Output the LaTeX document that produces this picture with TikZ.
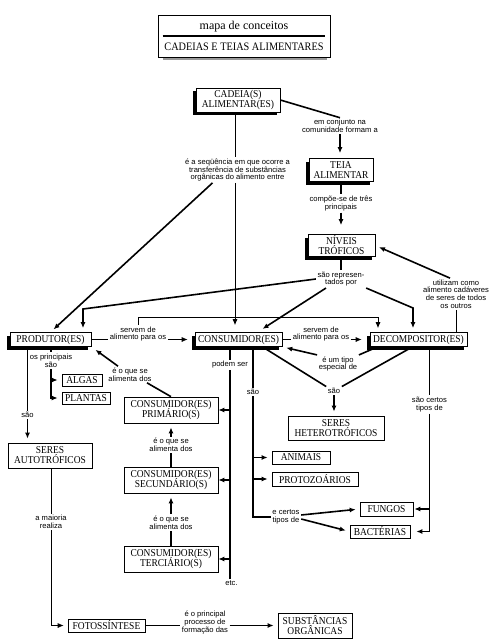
\documentclass[tikz,border=0pt]{standalone}
\usepackage{fontspec}
\setmainfont{Liberation Serif}
\newfontfamily\boxfont[FakeStretch=0.9]{Liberation Serif}
\newfontfamily\lblfont{Liberation Sans}
\newcommand\conceptfont{\boxfont\fontsize{10.5}{10}\selectfont\lineskiplimit=-10pt\relax}
\newcommand\labelfont{\lblfont\fontsize{7.6}{7.6}\selectfont\lineskiplimit=-10pt\relax}
\usetikzlibrary{arrows.meta,positioning,shadows,calc}

\begin{document}
\begin{tikzpicture}[
  x=1pt, y=-1pt,
  concept/.style={draw,line width=0.7pt,fill=white,align=center,inner xsep=2pt,inner ysep=0.5pt,
                  font=\conceptfont},
  shadowed/.style={concept,drop shadow={opacity=1,fill=black,shadow xshift=-3pt,shadow yshift=-3pt}},
  lbl/.style={align=center,inner sep=1.5pt,font=\labelfont},
  link/.style={line width=1.6pt},
  thinlink/.style={line width=0.7pt},
  linkarrow/.style={link,-{Latex[length=6pt,width=5pt]},shorten >=4pt},
  thinarrow/.style={thinlink,-{Latex[length=6pt,width=5pt]},shorten >=4pt},
]
  \useasboundingbox (0,0) rectangle (497,643);

  % Title
  \node[draw,line width=0.8pt,fill=white,minimum width=172pt,minimum height=42pt,
        drop shadow={opacity=1,fill=black!40,shadow xshift=1pt,shadow yshift=-4pt,shadow scale=0.95}]
    (title) at (244,36) {};
  \node[font=\fontsize{12}{12}\selectfont] (titletop) at (244,26.5) {mapa de conceitos};
  \node[font=\boxfont\fontsize{11.4}{11.4}\selectfont] (titlebot) at (244,46.5) {CADEIAS E TEIAS ALIMENTARES};
  \draw[line width=1.2pt] ([xshift=5pt]title.west) -- ([xshift=-5pt]title.east);

  % Main concepts
  \node[shadowed,minimum width=84pt,minimum height=24pt] (cadeia) at (238,100) {CADEIA(S)\\ALIMENTAR(ES)};
  \node[shadowed,minimum width=64pt,minimum height=23pt] (teia) at (341,170) {TEIA\\ALIMENTAR};
  \node[shadowed,minimum width=67pt,minimum height=22pt] (niveis) at (341.5,245.5) {NÍVEIS\\TRÓFICOS};
  \node[shadowed,minimum width=81pt,minimum height=14pt] (prod) at (50.5,339.5) {PRODUTOR(ES)};
  \node[shadowed,minimum width=87pt,minimum height=14pt] (cons) at (238.5,339.5) {CONSUMIDOR(ES)};
  \node[shadowed,minimum width=97pt,minimum height=14pt] (decomp) at (418.5,339.5) {DECOMPOSITOR(ES)};

  % Terms
  \node[concept,minimum width=40pt,minimum height=12pt] (algas) at (82,380) {ALGAS};
  \node[concept,minimum width=48pt,minimum height=12pt] (plantas) at (86,398) {PLANTAS};
  \node[concept,minimum width=84pt,minimum height=25pt] (autotrof) at (50,455.5) {SERES\\AUTOTRÓFICOS};
  \node[concept,minimum width=94pt,minimum height=26pt] (cprim) at (171,410) {CONSUMIDOR(ES)\\PRIMÁRIO(S)};
  \node[concept,minimum width=94pt,minimum height=26pt] (csec) at (171,480) {CONSUMIDOR(ES)\\SECUNDÁRIO(S)};
  \node[concept,minimum width=94pt,minimum height=26pt] (cter) at (171,559) {CONSUMIDOR(ES)\\TERCIÁRIO(S)};
  \node[concept,minimum width=96pt,minimum height=24pt] (heterotrof) at (336,428) {SERES\\HETEROTRÓFICOS};
  \node[concept,minimum width=58pt,minimum height=13pt] (animais) at (301,457.5) {ANIMAIS};
  \node[concept,minimum width=86pt,minimum height=14pt] (protoz) at (315,479) {PROTOZOÁRIOS};
  \node[concept,minimum width=53pt,minimum height=14pt] (fungos) at (386.5,509) {FUNGOS};
  \node[concept,minimum width=60pt,minimum height=13pt] (bacterias) at (380,531.5) {BACTÉRIAS};
  \node[concept,minimum width=77pt,minimum height=13pt] (fotoss) at (106.5,625.5) {FOTOSSÍNTESE};
  \node[concept,minimum width=74pt,minimum height=25pt] (substorg) at (315,625.5) {SUBSTÂNCIAS\\ORGÂNICAS};

  % Link labels
  \node[lbl] (emconj) at (340,126) {em conjunto na\\comunidade formam a};
  \node[lbl] (sequencia) at (237.5,170) {é a seqüência em que ocorre a\\transferência de substâncias\\orgânicas do alimento entre};
  \node[lbl] (compoe) at (341,203.5) {compõe-se de três\\principais};
  \node[lbl] (represent) at (341,279) {são represen-\\tados por};
  \node[lbl] (utilizam) at (456,294) {utilizam como\\alimento cadáveres\\de seres de todos\\os outros};
  \node[lbl] (servemA) at (138,334) {servem de\\alimento para os};
  \node[lbl] (servemB) at (321,334) {servem de\\alimento para os};
  \node[lbl] (tipoesp) at (338,364) {é um tipo\\especial de};
  \node[lbl] (saoH) at (334,391) {são};
  \node[lbl] (certosD) at (429.5,404.5) {são certos\\tipos de};
  \node[lbl] (podem) at (230,365) {podem ser};
  \node[lbl] (etc) at (231.5,583) {etc.};
  \node[lbl] (saoC) at (253,392) {são};
  \node[lbl] (certosC) at (286,517) {e certos\\tipos de};
  \node[lbl] (alimA) at (130,374.5) {é o que se\\alimenta dos};
  \node[lbl] (alimB) at (171,445) {é o que se\\alimenta dos};
  \node[lbl] (alimC) at (171,522.5) {é o que se\\alimenta dos};
  \node[lbl] (principais) at (51,360.5) {os principais\\são};
  \node[lbl] (saoP) at (27.5,415) {são};
  \node[lbl] (maioria) at (51,522) {a maioria\\realiza};
  \node[lbl] (processo) at (205,622.5) {é o principal\\processo de\\formação das};

  % Bends
  \coordinate (cadfoot) at ([xshift=-3pt]cadeia.south);
  \coordinate (prodbend) at (83,309);
  \coordinate (decbend) at (413,308);
  \coordinate (servbar) at (378,317);

  % Cadeia alimentar
  \draw[link] (cadeia.east) -- (emconj.north);
  \draw[linkarrow,shorten >=5pt] (emconj.south) -- (emconj.south |- teia.north);
  \draw[thinlink] (cadfoot) -- (cadfoot |- sequencia.north);
  \draw[thinarrow,shorten >=7pt] (cadfoot |- sequencia.south) -- (cadfoot |- cons.north);
  \draw[linkarrow] ([xshift=-25pt]sequencia.south) -- (prod.north);

  % Teia and niveis
  \draw[link] (teia.south -| compoe) -- (compoe.north);
  \draw[linkarrow,shorten >=9pt] (compoe.south) -- (compoe.south |- niveis.north);
  \draw[link] (niveis.south -| represent) -- (represent.north);
  \draw[linkarrow] (represent.west) -- (prodbend) -- (prodbend |- prod.north);
  \draw[linkarrow,shorten >=6pt] ([xshift=-15pt]represent.south) -- ([xshift=19pt]cons.north);
  \draw[linkarrow] (represent.south east) -- (decbend) -- (decbend |- decomp.north);
  \draw[thinlink] (decomp.north -| utilizam) -- (utilizam.south);
  \draw[linkarrow] ([xshift=-6pt]utilizam.north) -- (niveis.east);

  % Servem de alimento
  \draw[thinlink] (prod.east) -- (prod.east -| servemA.west);
  \draw[thinarrow,shorten >=7pt] (servemA.east |- cons.west) -- (cons.west);
  \draw[thinarrow,shorten >=4pt] (servemA.north) |- (servbar) -- (servbar |- decomp.north);
  \draw[thinlink] (cons.east) -- (cons.east -| servemB.west);
  \draw[thinarrow,shorten >=8pt] (servemB.east |- decomp.west) -- (decomp.west);

  % Decompositores
  \draw[linkarrow] (tipoesp.north west) -- (cons.south east);
  \draw[link] (tipoesp.north east) -- ([xshift=8pt]decomp.south west);
  \draw[link] ([xshift=24pt]cons.south) -- (saoH.north west);
  \draw[link] ([xshift=-6pt]decomp.south) -- (saoH.north east);
  \draw[linkarrow] (saoH.south) -- (saoH.south |- heterotrof.north);
  \draw[link] (decomp.south -| certosD) -- (certosD.north);
  \draw[linkarrow,shorten >=6pt] (certosD.south) |- (bacterias.east);
  \draw[linkarrow,shorten >=1pt] (certosD.south |- fungos.east) -- (fungos.east);

  % Consumidores
  \draw[link] (cons.south -| podem) -- (podem.north);
  \draw[link] (podem.south) -- (podem.south |- etc.north);
  \draw[linkarrow,shorten >=0pt] (cprim.east -| podem) -- (cprim.east);
  \draw[linkarrow,shorten >=0pt] (csec.east -| podem) -- (csec.east);
  \draw[linkarrow,shorten >=0pt] (cter.east -| podem) -- (cter.east);
  \draw[link] (cons.south -| saoC) -- (saoC.north);
  \draw[link] (saoC.south) |- (certosC.west);
  \draw[linkarrow] (animais.west -| saoC) -- (animais.west);
  \draw[linkarrow] (protoz.west -| saoC) -- (protoz.west);
  \draw[linkarrow] ([yshift=2pt]certosC.east) -- (fungos.west);
  \draw[linkarrow] ([yshift=-2pt]certosC.east) -- (bacterias.west);

  % Cadeia de consumidores
  \draw[link] (cter.north) -- (alimC.south);
  \draw[linkarrow] (alimC.north) -- (csec.south);
  \draw[link] (csec.north) -- (alimB.south);
  \draw[linkarrow] (alimB.north) -- (cprim.south);
  \draw[link] (cprim.north) -- ([xshift=17pt]alimA.south);
  \draw[linkarrow,shorten >=5pt] ([xshift=-12pt]alimA.north) -- (prod.south east);

  % Produtores
  \draw[link] (prod.south -| principais) -- (principais.north);
  \draw[linkarrow] (principais.south) |- (plantas.west);
  \draw[linkarrow] (algas.west -| principais) -- (algas.west);
  \draw[link] (prod.south -| saoP) -- (saoP.north);
  \draw[linkarrow] (saoP.south) -- (saoP.south |- autotrof.north);
  \draw[thinlink] (autotrof.south -| maioria) -- (maioria.north);
  \draw[thinarrow] (maioria.south) |- (fotoss.west);

  % Fotossintese
  \draw[link] (fotoss.east) -- (fotoss.east -| processo.west);
  \draw[linkarrow] (processo.east |- substorg.west) -- (substorg.west);
\end{tikzpicture}
\end{document}
